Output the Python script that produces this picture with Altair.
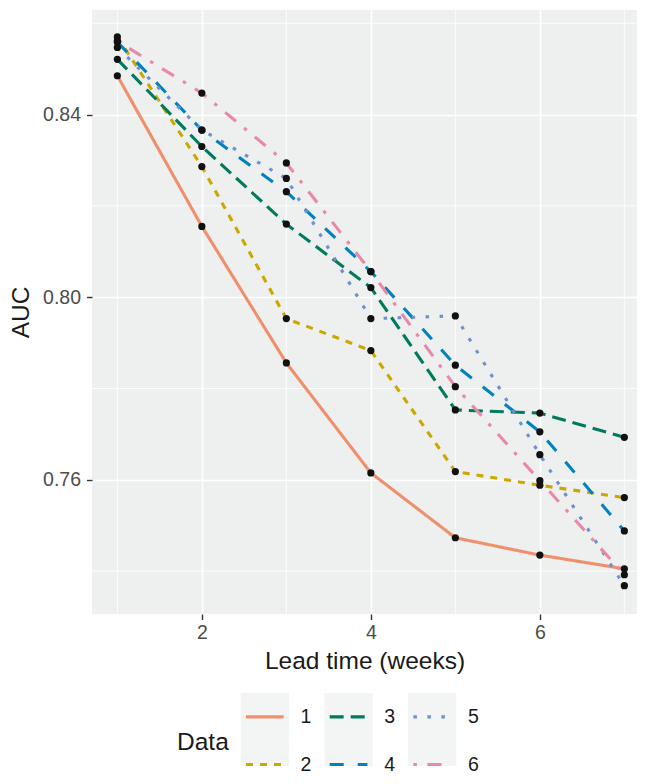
import altair as alt
import pandas as pd

# ---------------- data ----------------
weeks = [1, 2, 3, 4, 5, 6, 7]
series_names = ["1", "2", "3", "4", "5", "6"]
auc_1 = [0.8485, 0.8155, 0.7856, 0.7615, 0.7473, 0.7435, 0.7405]
auc_2 = [0.8570, 0.8286, 0.7953, 0.7883, 0.7618, 0.7588, 0.7561]
auc_3 = [0.8521, 0.8330, 0.8160, 0.8021, 0.7753, 0.7746, 0.7693]
auc_4 = [0.8559, 0.8366, 0.8231, 0.8056, 0.7851, 0.7705, 0.7488]
auc_5 = [0.8547, 0.8366, 0.8260, 0.7953, 0.7959, 0.7655, 0.7368]
auc_6 = [0.8561, 0.8447, 0.8294, 0.8056, 0.7804, 0.7598, 0.7392]
auc_all = [auc_1, auc_2, auc_3, auc_4, auc_5, auc_6]

major_x = [2, 4, 6]
minor_x = [1, 3, 5, 7]
major_y = [0.76, 0.80, 0.84]
minor_y = [0.74, 0.78, 0.82, 0.86]

# ---------------- styles ----------------
colors = ["#EF8F6B", "#CBA800", "#007A5C", "#0082BF", "#6E8FD0", "#E889A8"]
dashes = [[1, 0], [7, 7], [14, 7], [14, 14], [3.5, 10.5], [3.5, 10.5, 14, 10.5]]
FONT = "Liberation Sans"
PANEL = "#EEF0EF"
KEYBG = "#F3F4F4"

rows = []
for name, vals in zip(series_names, auc_all):
    for w, v in zip(weeks, vals):
        rows.append({"week": w, "auc": v, "Data": name})
df = pd.DataFrame(rows)

PLOT_W = 545
PLOT_H = 604
x_scale = alt.Scale(domain=[0.7, 0.7 + PLOT_W / 84.5], nice=False, zero=False)
y_scale = alt.Scale(domain=[0.7306, 0.8629], nice=False, zero=False)
color_scale = alt.Scale(domain=series_names, range=colors)
dash_scale = alt.Scale(domain=series_names, range=dashes)

x_axis = alt.Axis(values=major_x, title="Lead time (weeks)", format="d",
                  labelPadding=4, titlePadding=7)
y_axis = alt.Axis(values=major_y, title="AUC", format=".2f",
                  labelPadding=6, titlePadding=9)

hgrid = alt.Chart(pd.DataFrame({"auc": minor_y})).mark_rule(
    color="white", strokeWidth=0.8
).encode(y=alt.Y("auc:Q", scale=y_scale, axis=y_axis))

vgrid = alt.Chart(pd.DataFrame({"week": minor_x})).mark_rule(
    color="white", strokeWidth=0.8
).encode(x=alt.X("week:Q", scale=x_scale, axis=x_axis))

lines = alt.Chart(df).mark_line(strokeWidth=3.1, strokeCap="butt").encode(
    x=alt.X("week:Q", scale=x_scale, axis=x_axis),
    y=alt.Y("auc:Q", scale=y_scale, axis=y_axis),
    color=alt.Color("Data:N", scale=color_scale, legend=None),
    strokeDash=alt.StrokeDash("Data:N", scale=dash_scale, legend=None),
    order=alt.Order("week:Q"),
)

points = alt.Chart(df).mark_circle(size=52, color="#111111", opacity=1).encode(
    x=alt.X("week:Q", scale=x_scale, axis=x_axis),
    y=alt.Y("auc:Q", scale=y_scale, axis=y_axis),
)

main = alt.layer(hgrid, vgrid, lines, points).properties(
    width=PLOT_W, height=PLOT_H,
    view=alt.ViewBackground(fill=PANEL, stroke=None),
)

# ---------------- custom legend (origin aligned with plot's left edge) ----------------
PLOT_LEFT = 93.0      # page x of the plot's left edge
pitch = 83.7          # px per legend column
row_h = 47.7          # px per legend row
key_w = 48.3 / pitch  # key width in column units
inset = 5.3 / pitch
lab_gap = 11.5 / pitch
u0 = -(241.7 - PLOT_LEFT) / pitch
LEG_W = 400
LEG_H = 73

leg = pd.DataFrame({"Data": series_names})
leg["col"] = [i // 2 for i in range(len(series_names))]
leg["row"] = [i % 2 for i in range(len(series_names))]
leg["bx"] = leg["col"]
leg["bx2"] = leg["col"] + key_w
leg["by"] = leg["row"]
leg["by2"] = leg["row"] + 1
leg["lx"] = leg["col"] + inset
leg["lx2"] = leg["col"] + key_w - inset
leg["ly"] = leg["row"] + 0.5
leg["tx"] = leg["col"] + key_w + lab_gap

lx_scale = alt.Scale(domain=[u0, u0 + LEG_W / pitch], nice=False, zero=False)
ly_scale = alt.Scale(domain=[0, LEG_H / row_h], reverse=True, nice=False, zero=False)

lbase = alt.Chart(leg)
keybg = lbase.mark_rect(color=KEYBG, clip=True).encode(
    x=alt.X("bx:Q", scale=lx_scale, axis=None), x2="bx2:Q",
    y=alt.Y("by:Q", scale=ly_scale, axis=None), y2="by2:Q",
)
keyline = lbase.mark_rule(strokeWidth=3.1, strokeCap="butt").encode(
    x=alt.X("lx:Q", scale=lx_scale, axis=None), x2="lx2:Q",
    y=alt.Y("ly:Q", scale=ly_scale, axis=None),
    color=alt.Color("Data:N", scale=color_scale, legend=None),
    strokeDash=alt.StrokeDash("Data:N", scale=dash_scale, legend=None),
)
keytext = lbase.mark_text(align="left", baseline="middle", font=FONT,
                          fontSize=19.5, color="#1A1A1A").encode(
    x=alt.X("tx:Q", scale=lx_scale, axis=None),
    y=alt.Y("ly:Q", scale=ly_scale, axis=None),
    text="Data:N",
)
title_df = pd.DataFrame({"t": ["Data"], "x": [(178 - 241.7) / pitch], "y": [1.05]})
keytitle = alt.Chart(title_df).mark_text(align="left", baseline="middle", font=FONT,
                                          fontSize=24.5, color="#1A1A1A").encode(
    x=alt.X("x:Q", scale=lx_scale, axis=None),
    y=alt.Y("y:Q", scale=ly_scale, axis=None),
    text="t:N",
)
legend_chart = alt.layer(keybg, keyline, keytext, keytitle).properties(
    width=LEG_W, height=LEG_H,
    view=alt.ViewBackground(fill=None, stroke=None),
)

chart = alt.vconcat(main, legend_chart, spacing=20).resolve_scale(
    x="independent", y="independent", color="shared", strokeDash="shared"
).properties(
    padding={"left": 0, "top": 1, "right": 0, "bottom": 0}
).configure_view(
    stroke=None
).configure_axis(
    labelFont=FONT, labelFontSize=19.5, labelColor="#4D4D4D",
    titleFont=FONT, titleFontSize=24.5, titleColor="#1A1A1A", titleFontWeight="normal",
    tickColor="#333333", tickWidth=1.4, tickSize=5.5,
    domain=False, gridColor="white", gridWidth=1.6,
)

chart.save("out.html", embed_options={"renderer": "svg", "actions": False})
